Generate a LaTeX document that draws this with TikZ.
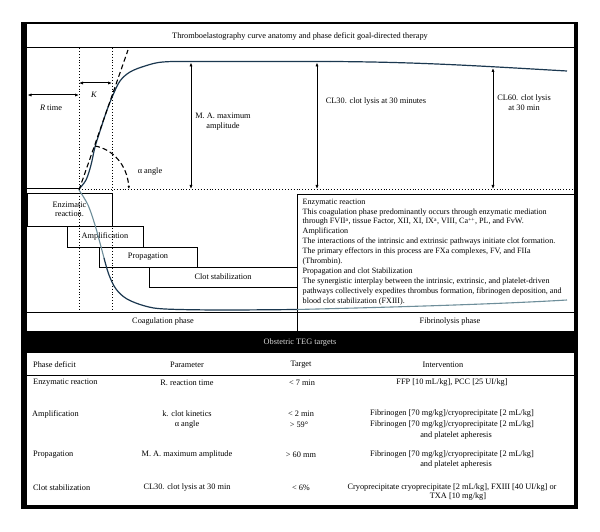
\documentclass[tikz,border=0pt]{standalone}
\usepackage{fontspec}
\setmainfont{Liberation Serif}
\usetikzlibrary{arrows.meta}
\definecolor{curvenavy}{HTML}{1B3850}
\definecolor{curvegray}{HTML}{6E8E9A}
\definecolor{bandtext}{HTML}{D8D8D8}
\begin{document}
\begin{tikzpicture}[x=1pt,y=-1pt,
  txt/.style={font=\fontsize{8.3}{9.9}\selectfont, inner sep=0pt, align=center},
  desctxt/.style={font=\fontsize{8.1}{9.95}\selectfont, inner sep=0pt, align=left},
  phasebox/.style={draw, line width=0.8pt, inner sep=0pt, align=center, font=\fontsize{8.3}{9.4}\selectfont},
  dimarrow/.style={line width=1pt, {Latex[length=4pt,width=3.2pt]}-{Latex[length=4pt,width=3.2pt]}},
  dotline/.style={dotted, line width=0.9pt},
  dashline/.style={dash pattern=on 5pt off 3pt, line width=1.1pt},
  rule/.style={line width=0.8pt}]
\useasboundingbox (0,0) rectangle (600,532);
% frame
\fill[black] (21,22) rectangle (578,509);
\fill[white] (27,24) rectangle (574,505);
% title
\draw[line width=1pt] (27,48) -- (574,48);
\node[txt] (title) at (300,36) {Thromboelastography curve anatomy and phase deficit goal-directed therapy};
% dotted verticals and baseline
\coordinate (d1t) at (79,48); \coordinate (d1b) at (79,311);
\coordinate (d2t) at (112,48); \coordinate (d2b) at (112,311);
\draw[dotline] (d1t) -- (d1b);
\draw[dotline] (d2t) -- (d2b);
\coordinate (bl0) at (27,189); \coordinate (bl1) at (79,189); \coordinate (bl2) at (574,189);
\draw[line width=1pt] (bl0) -- (bl1);
\draw[dotline] (bl1) -- (bl2);
% phase boxes
\node[phasebox, minimum width=85pt, minimum height=33pt] (enz) at (69.5,209.5) {Enzimatic\\reaction.};
\node[phasebox, minimum width=76pt, minimum height=21pt] (amp) at (105,236.5) {Amplification};
\node[phasebox, minimum width=98pt, minimum height=20pt] (prop) at (148,257) {Propagation};
\node[phasebox, minimum width=148pt, minimum height=20pt] (clot) at (223,277) {Clot stabilization};
% right text box
\draw[rule] (297,194) rectangle (574,312);
\node[desctxt, anchor=north west] (desc) at (302.5,198.5) {Enzymatic reaction\\
This coagulation phase predominantly occurs through enzymatic mediation\\
through FVII\textsuperscript{a}, tissue Factor, XII, XI, IX\textsuperscript{a}, VIII, Ca\textsuperscript{++}, PL, and FvW.\\
Amplification\\
The interactions of the intrinsic and extrinsic pathways initiate clot formation.\\
The primary effectors in this process are FXa complexes, FV, and FIIa\\
(Thrombin).\\
Propagation and clot Stabilization\\
The synergistic interplay between the intrinsic, extrinsic, and platelet-driven\\
pathways collectively expedites thrombus formation, fibrinogen deposition, and\\
blood clot stabilization (FXIII).};
% phase row
\draw[rule] (27,312) -- (574,312);
\draw[rule] (297,312) -- (297,331);
\node[txt] (coag) at (163,321.5) {Coagulation phase};
\node[txt] (fibr) at (450,321.5) {Fibrinolysis phase};
% curves
\draw[curvenavy, line width=1.2pt] plot[smooth, tension=0.55] coordinates {(79,189) (86,180) (91,165) (95,147) (101,128) (107,110) (113,95) (120,81) (130,72) (145,66) (163,62) (200,61.5) (330,61.5)};
\draw[curvenavy, line width=1.2pt] (330,61.5) .. controls (420,62) and (480,66) .. (567,71);
\draw[curvegray, line width=1.1pt] plot[smooth, tension=0.55] coordinates {(79,190) (88,205) (95,225) (100,243) (104,258)};
\draw[curvenavy, line width=1.2pt] plot[smooth, tension=0.55] coordinates {(104,258) (109,275) (116,289) (127,299) (145,306) (165,309) (220,310) (297,309.5)};
\draw[curvegray, line width=1.1pt] (297,309.5) .. controls (400,307) and (500,304) .. (567,300);
% tangent and alpha arc
\coordinate (tg0) at (79,190); \coordinate (tg1) at (128,50);
\draw[dashline] (tg0) -- (tg1);
\coordinate (al0) at (95,146); \coordinate (al1) at (129,189);
\draw[dashline, -{Latex[length=3pt,width=2.5pt]}] (al0) .. controls (112,149) and (127,164) .. (al1);
% dimension arrows
\coordinate (r0) at (27.5,95); \coordinate (r1) at (79,95);
\draw[dimarrow] (r0) -- (r1);
\node[txt] (rlab) at (51,108) {\textit{R} time};
\coordinate (k0) at (79,83); \coordinate (k1) at (112,83);
\draw[dimarrow] (k0) -- (k1);
\node[txt] (klab) at (94,95) {\textit{K}};
\coordinate (ma0) at (191,62.5); \coordinate (ma1) at (191,189);
\draw[dimarrow] (ma0) -- (ma1);
\node[txt] (malab) at (223,122) {M. A. maximum\\amplitude};
\coordinate (c30a) at (317,62.5); \coordinate (c30b) at (317,189);
\draw[dimarrow] (c30a) -- (c30b);
\node[txt] (c30lab) at (376,102) {CL30. clot lysis at 30 minutes};
\coordinate (c60a) at (493,68); \coordinate (c60b) at (493,189);
\draw[dimarrow] (c60a) -- (c60b);
\node[txt] (c60lab) at (524,103) {CL60. clot lysis\\at 30 min};
\node[txt] (alab) at (150,172) {α angle};
% black band
\fill[black] (27,331) rectangle (574,353);
\node[txt, text=bandtext] (band) at (300,342.5) {Obstetric TEG targets};
% table
\draw[rule] (27,375) -- (574,375);
\node[txt, anchor=west] (h1) at (33,365) {Phase deficit};
\node[txt] (h2) at (187,365) {Parameter};
\node[txt] (h3) at (301,365) {Target};
\node[txt] (h4) at (443,365) {Intervention};
% row 1
\node[txt, anchor=west] (a1) at (33,383) {Enzymatic reaction};
\node[txt] (a2) at (187,383) {R. reaction time};
\node[txt] (a3) at (302,383) {< 7 min};
\node[txt] (a4) at (452,383) {FFP [10 mL/kg], PCC [25 UI/kg]};
% row 2
\node[txt, anchor=west] (b1) at (32,414) {Amplification};
\node[txt] (b2) at (187,414) {k. clot kinetics};
\node[txt] (b2b) at (187,425) {α angle};
\node[txt] (b3) at (301,414) {< 2 min};
\node[txt] (b3b) at (299,425) {> 59°};
\node[txt] (b4) at (452,414) {Fibrinogen [70 mg/kg]/cryoprecipitate [2 mL/kg]};
\node[txt] (b4b) at (452,424.5) {Fibrinogen [70 mg/kg]/cryoprecipitate [2 mL/kg]};
\node[txt] (b4c) at (456,436) {and platelet apheresis};
% row 3
\node[txt, anchor=west] (c1) at (33,455) {Propagation};
\node[txt] (c2) at (187,455) {M. A. maximum amplitude};
\node[txt] (c3) at (301,455) {> 60 mm};
\node[txt] (c4) at (452,454.5) {Fibrinogen [70 mg/kg]/cryoprecipitate [2 mL/kg]};
\node[txt] (c4b) at (456,465) {and platelet apheresis};
% row 4
\node[txt, anchor=west] (e1) at (33,488) {Clot stabilization};
\node[txt] (e2) at (187,488) {CL30. clot lysis at 30 min};
\node[txt] (e3) at (301,488) {< 6\%};
\node[txt] (e4) at (452,487.5) {Cryoprecipitate cryoprecipitate [2 mL/kg], FXIII [40 UI/kg] or};
\node[txt] (e4b) at (458,497) {TXA [10 mg/kg]};
\end{tikzpicture}
\end{document}
